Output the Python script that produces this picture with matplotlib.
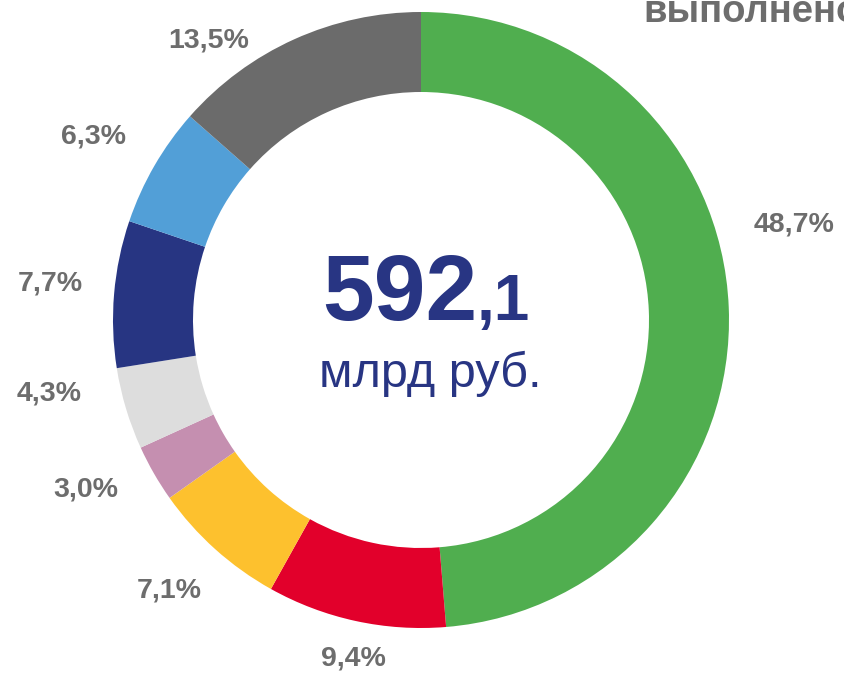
import numpy as np
import matplotlib

matplotlib.use("Agg")
import matplotlib.pyplot as plt

plt.rcParams["font.family"] = ["Liberation Sans", "DejaVu Sans"]

# shares, clockwise from 12 o'clock
shares = [48.7, 9.4, 7.1, 3.0, 4.3, 7.7, 6.3, 13.5]
colors = ["#50ae4f", "#e2002b", "#fdc12e", "#c58fb0", "#dddddd",
          "#273582", "#529fd7", "#6b6b6b"]
total_whole = "592"
total_frac = ",1"
unit = "млрд руб."
title = "выполнено"

W, H = 844, 673
fig = plt.figure(figsize=(W / 100, H / 100), dpi=100)
ax = fig.add_axes([0, 0, 1, 1])

cx, cy, R = 421, H - 320, 308
labels = [f"{v:.1f}%".replace(".", ",") for v in shares]
wedges, texts = ax.pie(shares, colors=colors, startangle=90, counterclock=False,
                       center=(cx, cy), radius=R, labels=labels, labeldistance=1.2,
                       wedgeprops=dict(width=80, linewidth=0),
                       textprops=dict(fontsize=20.5, fontweight="bold", color="#6d6d6d"))

# label placement: (angle shift from wedge mid, distance in radii)
label_place = [(12, 1.25), (1, 1.12), (-1, 1.2), (-3, 1.22),
               (-5.6, 1.23), (-0.8, 1.21), (0.8, 1.22), (13, 1.14)]
for w, t, (da, rf) in zip(wedges, texts, label_place):
    ang = np.deg2rad((w.theta1 + w.theta2) / 2 + da)
    t.set_position((cx + R * rf * np.cos(ang), cy + R * rf * np.sin(ang)))
    t.set_ha("center"); t.set_va("center")

navy = "#283583"
ax.text(477, cy, total_whole, fontsize=67, fontweight="bold", color=navy,
        ha="right", va="baseline")
ax.text(477, cy, total_frac, fontsize=46, fontweight="bold", color=navy,
        ha="left", va="baseline")
ax.text(430, H - 387, unit, fontsize=35, color=navy, ha="center", va="baseline")

ax.text(643, H - 22, title, fontsize=27.5, fontweight="bold", color="#6d6d6d",
        ha="left", va="baseline")

ax.set_xlim(0, W)
ax.set_ylim(0, H)
ax.set_aspect("equal")
ax.axis("off")

fig.savefig("out.png", dpi=100)
